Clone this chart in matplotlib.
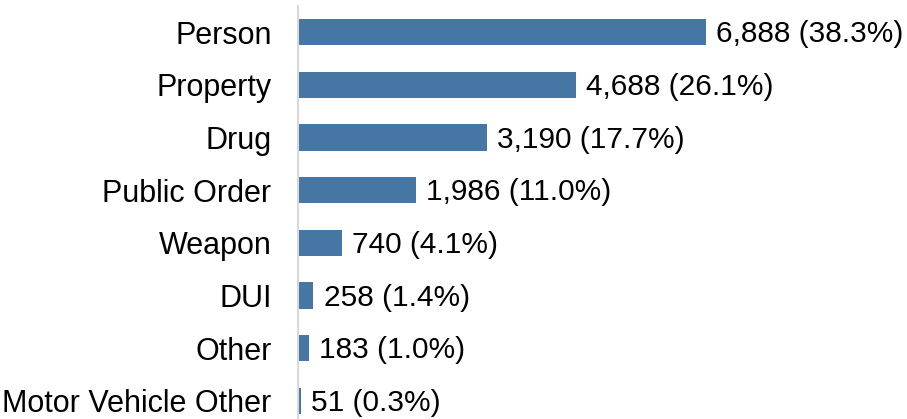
import matplotlib
matplotlib.use("Agg")
import matplotlib.pyplot as plt

categories = ["Person", "Property", "Drug", "Public Order", "Weapon", "DUI", "Other",
              "Motor Vehicle Other"]
counts = [6888, 4688, 3190, 1986, 740, 258, 183, 51]
shares = [38.3, 26.1, 17.7, 11.0, 4.1, 1.4, 1.0, 0.3]

plt.rcParams["font.family"] = ["Liberation Sans", "DejaVu Sans"]

fig = plt.figure(figsize=(9.07, 4.19), dpi=100)
ax = fig.add_axes([298 / 907, -8 / 419, 609 / 907, 421 / 419])

y = list(range(len(categories)))
ax.barh(y, counts, height=0.5, color="#4676a3")
for yi, c, s in zip(y, counts, shares):
    ax.annotate(f"{c:,} ({s:.1f}%)", (c, yi), xytext=(7.5, -1.5), textcoords="offset points",
                va="center", ha="left", fontsize=21.5, color="#000000")

ax.set_xlim(0, 6888 * 609 / 408)
ax.set_ylim(len(categories) - 0.5, -0.5)
ax.set_yticks(y)
ax.set_yticklabels(categories, fontsize=22)
ax.tick_params(axis="y", length=0, pad=19)
ax.set_xticks([])
for side in ["top", "right", "bottom"]:
    ax.spines[side].set_visible(False)
ax.spines["left"].set_color("#d9d9d9")
ax.spines["left"].set_linewidth(1.5)

fig.savefig("out.png", dpi=100)
